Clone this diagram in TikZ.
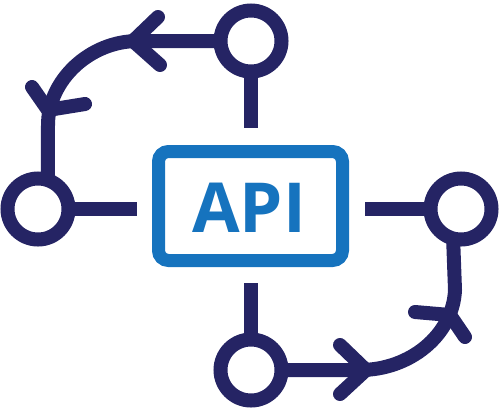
\documentclass[tikz,border=0pt]{standalone}
\usepackage{fontspec}
\setmainfont{Open Sans}
\definecolor{navy}{RGB}{37,36,100}
\definecolor{apiblue}{RGB}{22,115,190}
\begin{document}
\begin{tikzpicture}[x=1pt,y=-1pt,
  ring/.style={circle,draw=navy,line width=14pt,minimum size=61pt,inner sep=0pt,outer sep=0pt},
  wire/.style={draw=navy,line width=14pt},
  chev/.style={draw=navy,line width=14pt,line cap=round,line join=round}]
\useasboundingbox (0,0) rectangle (500,410);
\node[ring] (top) at (251,41) {};
\node[ring] (left) at (38,209) {};
\node[ring] (right) at (461,209) {};
\node[ring] (bottom) at (251,370) {};
\node[draw=apiblue, line width=13pt, rounded corners=10pt, minimum width=184pt, minimum height=109pt, inner sep=0pt, outer sep=0pt] (api) at (250.5,206) {};
\node[text=apiblue, font=\fontsize{69}{69}\selectfont\bfseries, anchor=base, inner sep=0pt] (lbl) at (249,232) {API};
% stubs
\coordinate (tstub) at (251,128);
\coordinate (lstub) at (137,209);
\coordinate (rstub) at (365,209);
\coordinate (bstub) at (251,283);
\draw[wire] (top.south) -- (tstub);
\draw[wire] (left.east) -- (lstub);
\draw[wire] (rstub) -- (right.west);
\draw[wire] (bstub) -- (bottom.north);
% curved connectors
\draw[wire] (top.west) -- (138,41) .. controls (90,41) and (48,80) .. (48,125) -- (left.71);
\draw[wire] (bottom.east) -- (360,370) .. controls (410,370) and (453,335) .. (455,290) -- (right.255);
% arrowheads
\coordinate (ta) at (133,41);
\coordinate (la) at (48,110);
\coordinate (ba) at (366,370);
\coordinate (ra) at (450,315);
\draw[chev] (158,17) -- (ta) -- (160,65);
\draw[chev] (32,87) -- (la) -- (85,104);
\draw[chev] (340,345) -- (ba) -- (340,394);
\draw[chev] (415,312) -- (ra) -- (465,337);
\end{tikzpicture}
\end{document}
